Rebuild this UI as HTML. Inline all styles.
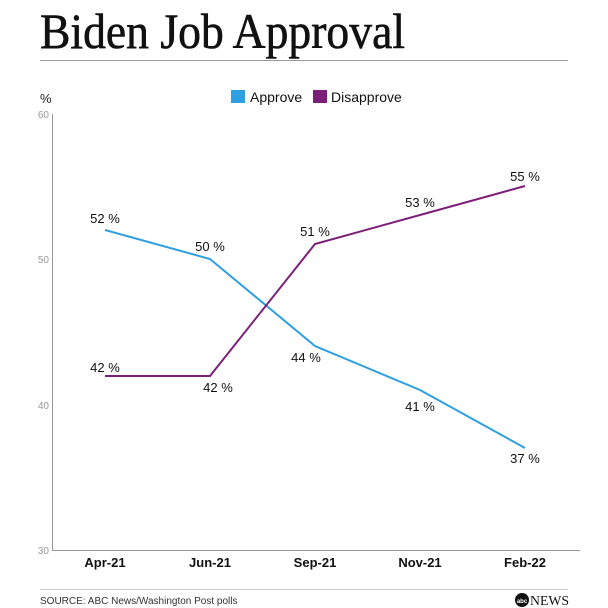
<!DOCTYPE html>
<html><head><meta charset="utf-8"><style>html,body{margin:0;padding:0;background:#fff}svg{display:block}</style></head>
<body>
<svg width="608" height="608" viewBox="0 0 608 608" xmlns="http://www.w3.org/2000/svg" font-family="Liberation Sans, sans-serif">
<rect width="608" height="608" fill="#fff"/>
<text x="40" y="48" font-family="Liberation Serif, serif" font-size="50" textLength="365" lengthAdjust="spacingAndGlyphs" fill="#111" stroke="#111" stroke-width="0.6">Biden Job Approval</text>
<line x1="40" y1="60.5" x2="568" y2="60.5" stroke="#999" stroke-width="1"/>
<text x="40" y="103" font-size="13" fill="#222">%</text>
<rect x="231" y="90" width="14" height="13" fill="#2e9fe0"/>
<text x="250" y="102" font-size="14" fill="#111">Approve</text>
<rect x="313" y="90" width="14" height="13" fill="#7b1f78"/>
<text x="331" y="102" font-size="14" fill="#111">Disapprove</text>
<g font-size="10" fill="#999" text-anchor="end">
<text x="49" y="118">60</text><text x="49" y="263">50</text><text x="49" y="409">40</text><text x="49" y="554">30</text>
</g>
<line x1="52.5" y1="114" x2="52.5" y2="551" stroke="#999"/>
<line x1="52" y1="550.5" x2="580" y2="550.5" stroke="#999"/>
<g font-size="13" fill="#111" text-anchor="middle" font-weight="bold">
<text x="105" y="567">Apr-21</text><text x="210" y="567">Jun-21</text><text x="315" y="567">Sep-21</text><text x="420" y="567">Nov-21</text><text x="525" y="567">Feb-22</text>
</g>
<polyline points="105,230 210,259 315,346 420,390 525,448" fill="none" stroke="#2e9fe0" stroke-width="2"/>
<polyline points="105,376 210,376 315,244 420,215 525,186" fill="none" stroke="#7b1f78" stroke-width="2"/>
<g font-size="13" fill="#111" text-anchor="middle">
<text x="105" y="223">52 %</text><text x="210" y="251">50 %</text><text x="306" y="362">44 %</text><text x="420" y="411">41 %</text><text x="525" y="463">37 %</text>
<text x="105" y="372">42 %</text><text x="218" y="392">42 %</text><text x="315" y="236">51 %</text><text x="420" y="207">53 %</text><text x="525" y="181">55 %</text>
</g>
<line x1="40" y1="589.5" x2="568" y2="589.5" stroke="#ccc"/>
<text x="40" y="604" font-size="10" fill="#333">SOURCE: ABC News/Washington Post polls</text>
<circle cx="522" cy="600" r="7" fill="#111"/>
<text x="522" y="603" font-size="6" fill="#fff" text-anchor="middle" font-weight="bold">abc</text>
<text x="530" y="605" font-family="Liberation Serif, serif" font-size="14" fill="#111" textLength="39" lengthAdjust="spacingAndGlyphs">NEWS</text>
</svg>
</body></html>
